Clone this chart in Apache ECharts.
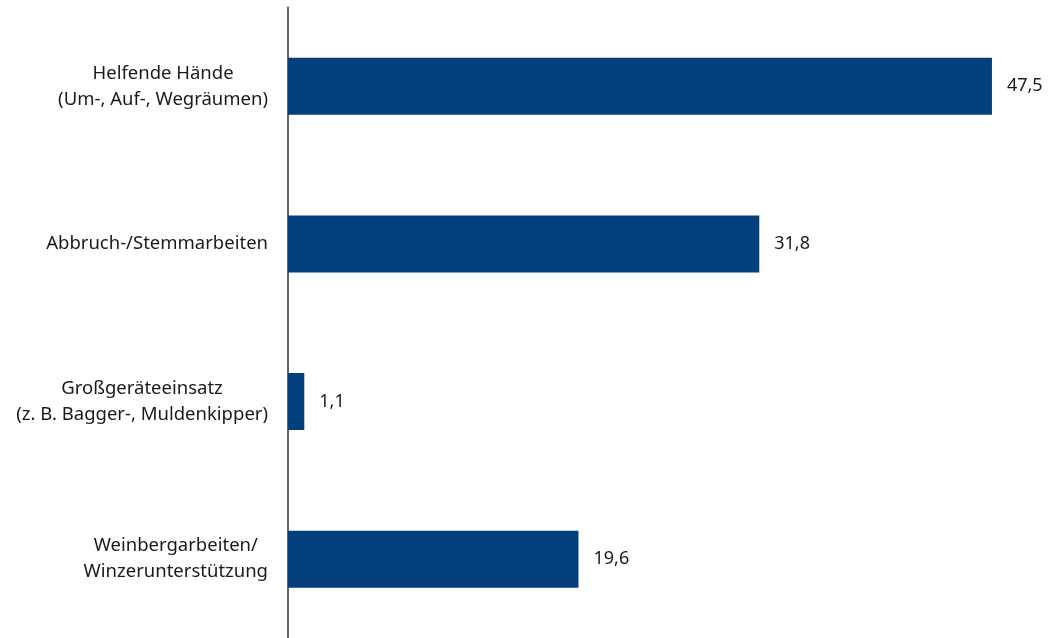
<!DOCTYPE html>
<html>
<head>
<meta charset="utf-8">
<script src="https://cdn.jsdelivr.net/npm/echarts@6/dist/echarts.min.js"></script>
<style>html,body{margin:0;padding:0;background:#fff;}#c{width:1048px;height:638px;}</style>
</head>
<body>
<div id="c"></div>
<script>
const categories = [
  "Helfende Hände\n(Um-, Auf-, Wegräumen)",
  "Abbruch-/Stemmarbeiten",
  "Großgeräteeinsatz\n(z. B. Bagger-, Muldenkipper)",
  "Weinbergarbeiten/\nWinzerunterstützung"
];
const values = [47.5, 31.8, 1.1, 19.6];

const FONT = "Noto Sans";
const chart = echarts.init(document.getElementById('c'));
chart.setOption({
  animation: false,
  grid: { left: 288, right: 19, top: 7.5, bottom: -3, containLabel: false },
  xAxis: { type: 'value', min: 0, max: 50, show: false },
  yAxis: {
    type: 'category', data: categories, inverse: true,
    axisLine: { show: true, lineStyle: { color: '#666', width: 2 } },
    axisTick: { show: false },
    axisLabel: {
      margin: 20, align: 'right', color: '#1a1a1a', fontFamily: FONT, fontSize: 18.5,
      formatter: v => v.split('\n').map(s => '{a|' + s + '}').join('\n'),
      rich: { a: { align: 'center', fontFamily: FONT, fontSize: 18.5, color: '#1a1a1a', lineHeight: 26 } }
    }
  },
  series: [{
    type: 'bar', data: values, barWidth: 57,
    itemStyle: { color: '#023f7c' },
    label: {
      show: true, position: 'right', distance: 15, color: '#1a1a1a',
      fontFamily: FONT, fontSize: 18,
      formatter: p => String(p.value).replace('.', ',')
    }
  }]
});
</script>
</body>
</html>
